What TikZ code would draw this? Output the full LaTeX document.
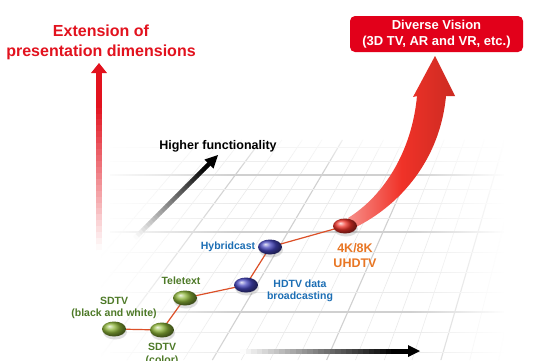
\documentclass[tikz,border=0pt]{standalone}
\usepackage{fontspec}
\setmainfont{Liberation Sans}
\usetikzlibrary{shapes.geometric,calc,fadings,shadows}
\definecolor{titlered}{RGB}{226,18,30}
\definecolor{boxred}{RGB}{226,0,26}
\definecolor{lblgreen}{RGB}{78,122,40}
\definecolor{lblblue}{RGB}{28,110,180}
\definecolor{lblorange}{RGB}{232,118,36}
\definecolor{linkred}{RGB}{220,80,40}
\definecolor{ballgreen}{RGB}{140,180,55}
\definecolor{ballblue}{RGB}{70,70,190}
\definecolor{ballred}{RGB}{240,50,40}
\definecolor{gridbold}{RGB}{208,208,208}
\definecolor{gridfaint}{RGB}{234,234,234}
\begin{document}
\begin{tikzpicture}[x=1pt,y=-1pt,
  dot/.style={ellipse, minimum width=24pt, minimum height=15pt, inner sep=0pt,
    drop shadow={opacity=0.25, shadow xshift=1pt, shadow yshift=-3pt}},
  gdot/.style={dot, ball color=ballgreen},
  bdot/.style={dot, ball color=ballblue},
  rdot/.style={dot, ball color=ballred},
  lbl/.style={font=\bfseries\fontsize{10.5}{12.5}\selectfont, align=center, inner sep=0pt},
  link/.style={draw=linkred, line width=1.2pt},
  gridb/.style={draw=gridbold, line width=1.1pt},
  gridf/.style={draw=gridfaint, line width=0.6pt}
]
\useasboundingbox (0,0) rectangle (537,360);
\fill[white] (0,0) rectangle (537,360);

% ---- perspective grid ----
\coordinate (vp) at (661,-399);
\foreach \x in {122,146,170,217,241,264,312,336,359,407,431,454,502,526}
  \draw[gridf] ($(\x,232)!-0.2029!(vp)$) -- ($(\x,232)!0.146!(vp)$);
\foreach \x in {193,288,383,478}
  \draw[gridb] ($(\x,232)!-0.2029!(vp)$) -- ($(\x,232)!0.146!(vp)$);
\foreach \y in {147,161,189,203,218,252,272,292,332,352}
  \draw[gridf] (110,\y) -- (530,\y);
\foreach \y in {175,232,312}
  \draw[gridb] (110,\y) -- (530,\y);
% fades
\fill[white, path fading=east] (100,120) rectangle (235,361);
\fill[white] (0,120) rectangle (101,361);
\fill[white, path fading=west] (410,120) rectangle (505,361);
\fill[white] (504,120) rectangle (537,361);
\fill[white, path fading=south] (100,125) rectangle (537,172);
\fill[white] (100,100) rectangle (537,126);

% ---- red vertical arrow ----
\coordinate (vtail) at (99,250);
\coordinate (vhead) at (99,72);
\coordinate (vtip) at (99,63);
\foreach \i [evaluate=\i as \ta using \i/30, evaluate=\i as \tb using (\i+1.1)/30,
             evaluate=\i as \p using {int(min(100,125*(\i+0.5)/30))}] in {0,...,29}
  \draw[line width=6.5pt, titlered!\p!white] ($(vtail)!\ta!(vhead)$) -- ($(vtail)!\tb!(vhead)$);
\fill[titlered] ($(vhead)+(-8,1)$) -- (vtip) -- ($(vhead)+(8,1)$) -- cycle;
\node[text=titlered, font=\bfseries\fontsize{16}{20}\selectfont, align=center] (ttl) at (101,42) {Extension of\\presentation dimensions};

% ---- black diagonal arrow ----
\coordinate (dtail) at (135,238);
\coordinate (dhead) at (209,164);
\coordinate (dtip) at (218,155);
\foreach \i [evaluate=\i as \ta using \i/30, evaluate=\i as \tb using (\i+1.1)/30,
             evaluate=\i as \p using {int(min(100,105*(\i+0.5)/30))}] in {0,...,29}
  \draw[line width=4.5pt, black!\p!white] ($(dtail)!\ta!(dhead)$) -- ($(dtail)!\tb!(dhead)$);
\fill[black] ($(dhead)+(4.5,4.5)$) -- (dtip) -- ($(dhead)+(-4.5,-4.5)$) -- cycle;
\node[font=\bfseries\fontsize{12.5}{15}\selectfont] (hf) at (218,146) {Higher functionality};

% ---- black horizontal arrow ----
\coordinate (htail) at (240,351);
\coordinate (hhead) at (408,351);
\coordinate (htip) at (420,351);
\foreach \i [evaluate=\i as \ta using \i/30, evaluate=\i as \tb using (\i+1.1)/30,
             evaluate=\i as \p using {int(min(100,110*(\i+0.5)/30))}] in {0,...,29}
  \draw[line width=5pt, black!\p!white] ($(htail)!\ta!(hhead)$) -- ($(htail)!\tb!(hhead)$);
\fill[black] ($(hhead)+(0,-6)$) -- (htip) -- ($(hhead)+(0,6)$) -- cycle;

% ---- curved red arrow ----
\coordinate (cstart) at (350,222);
\coordinate (ctip) at (435,56);
\shade[left color=ballred!55!white, right color=ballred!85!black, middle color=ballred]
  (348,218) .. controls (385,195) and (412,150) .. (417,96)
  -- (413,97) -- (ctip) -- (455,96) -- (446,96)
  .. controls (440,160) and (400,205) .. (356,227) -- cycle;

% ---- nodes ----
\draw[link] (114,329) -- (162,330) -- (185,298) -- (246,285) -- (270,247) -- (345,226);
\node[gdot] (bw) at (114,329) {};
\node[gdot] (col) at (162,330) {};
\node[gdot] (tele) at (185,298) {};
\node[bdot] (hdtv) at (246,285) {};
\node[bdot] (hyb) at (270,247) {};
\node[rdot] (uhd) at (345,226) {};

\node[lbl, text=lblgreen] (lbw) at (114,308) {SDTV\\(black and white)};
\node[lbl, text=lblgreen] (lcol) at (162,354.5) {SDTV\\(color)};
\node[lbl, text=lblgreen] (ltele) at (181,281) {Teletext};
\node[lbl, text=lblblue] (lhyb) at (228,247) {Hybridcast};
\node[lbl, text=lblblue] (lhdtv) at (300,291) {HDTV data\\broadcasting};
\node[lbl, text=lblorange, font=\bfseries\fontsize{12.5}{15}\selectfont] (luhd) at (355,255.5) {4K/8K\\UHDTV};

% ---- box ----
\node[fill=boxred, rounded corners=5pt, minimum width=173pt, minimum height=36pt,
  text=white, font=\bfseries\fontsize{13}{16}\selectfont, align=center, inner sep=0pt]
  (dv) at (436.5,34) {Diverse Vision\\(3D TV, AR and VR, etc.)};
\end{tikzpicture}
\end{document}
